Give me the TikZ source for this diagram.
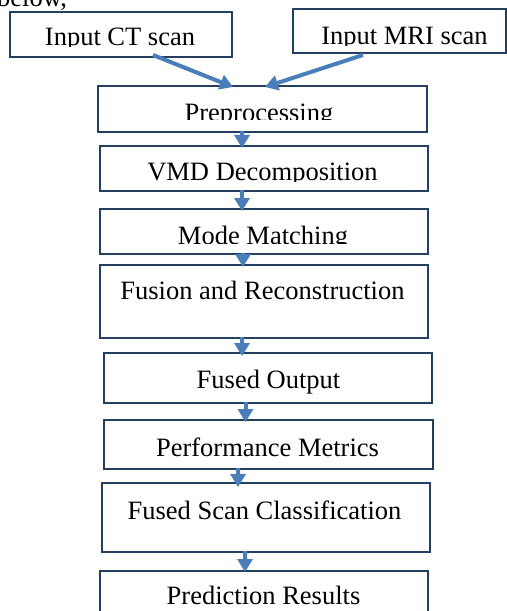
\documentclass[tikz,border=0pt]{standalone}
\usepackage{fontspec}
\setmainfont{Liberation Serif}
\usetikzlibrary{arrows.meta}
\definecolor{boxline}{RGB}{36,63,96}
\definecolor{flowblue}{RGB}{74,126,187}

\begin{document}
\begin{tikzpicture}[x=1bp,y=-1bp,
  stage/.style={draw=boxline, line width=1.6bp, fill=white, inner sep=0pt,
                outer sep=0pt, anchor=north west},
  caption/.style={font=\fontsize{26.5bp}{30bp}\selectfont, inner sep=0pt,
                  anchor=base, text=black},
  flow/.style={draw=flowblue, line width=4bp,
               -{Triangle[length=13bp,width=15bp]}},
]
\useasboundingbox (0,0) rectangle (507,611);

% paragraph text running into the figure
\node[caption, anchor=base west] (lead) at (-3,7) {below,};

% process boxes
\node[stage, minimum width=222bp, minimum height=45bp] (ct)   at (10,12)  {};
\node[stage, minimum width=213bp, minimum height=44bp] (mri)  at (293,9)  {};
\node[stage, minimum width=329bp, minimum height=46bp] (pre)  at (98,86)  {};
\node[stage, minimum width=328bp, minimum height=45bp] (vmd)  at (100,146) {};
\node[stage, minimum width=328bp, minimum height=45bp] (mode) at (100,209) {};
\node[stage, minimum width=328bp, minimum height=73bp] (fus)  at (100,265) {};
\node[stage, minimum width=328bp, minimum height=50bp] (out)  at (104,353) {};
\node[stage, minimum width=329bp, minimum height=49bp] (perf) at (104,420) {};
\node[stage, minimum width=328bp, minimum height=69bp] (fsc)  at (102,483) {};
\node[stage, minimum width=328bp, minimum height=54bp] (pred) at (100,571) {};

% box texts (the shallow boxes cut their text off at the bottom)
\begin{scope}
  \clip (10,12) rectangle (232,47);
  \node[caption] (tct) at (120,46) {Input CT scan};
\end{scope}
\begin{scope}
  \clip (293,9) rectangle (506,45.5);
  \node[caption] (tmri) at (404.5,44.5) {Input MRI scan};
\end{scope}
\begin{scope}
  \clip (98,86) rectangle (427,120);
  \node[caption] (tpre) at (259,122) {Preprocessing};
\end{scope}
\begin{scope}
  \clip (100,146) rectangle (428,181);
  \node[caption] (tvmd) at (262.5,180.5) {VMD Decomposition};
\end{scope}
\begin{scope}
  \clip (100,209) rectangle (428,243.5);
  \node[caption] (tmode) at (263,244.5) {Mode Matching};
\end{scope}
\node[caption] (tfus)  at (262.5,299.5) {Fusion and Reconstruction};
\node[caption] (tout)  at (268.5,388)   {Fused Output};
\node[caption] (tperf) at (267.5,456)   {Performance Metrics};
\node[caption] (tfsc)  at (264.5,519)   {Fused Scan Classification};
\node[caption] (tpred) at (263.5,604.5) {Prediction Results};

% flow arrows
\draw[flow] ([xshift=32bp,yshift=2bp]ct.south)
         -- ([xshift=-29.5bp,yshift=-1bp]pre.north);
\draw[flow] ([xshift=-36.5bp,yshift=-2bp]mri.south)
         -- ([xshift=2.5bp,yshift=-1bp]pre.north);
\draw[flow] ([xshift=-20.5bp,yshift=1bp]pre.south)
         -- ([xshift=-22bp,yshift=-2bp]vmd.north);
\draw[flow] ([xshift=-22bp,yshift=1bp]vmd.south)
         -- ([xshift=-22bp,yshift=-2bp]mode.north);
\draw[flow] ([xshift=-21bp,yshift=1bp]mode.south)
         -- ([xshift=-21bp,yshift=-2bp]fus.north);
\draw[flow] ([xshift=-22bp,yshift=1bp]fus.south)
         -- ([xshift=-26bp,yshift=-3bp]out.north);
\draw[flow] ([xshift=-22.5bp,yshift=1bp]out.south)
         -- ([xshift=-23bp,yshift=-2bp]perf.north);
\draw[flow] ([xshift=-30.5bp,yshift=1bp]perf.south)
         -- ([xshift=-28bp,yshift=-4bp]fsc.north);
\draw[flow] ([xshift=-21bp,yshift=1bp]fsc.south)
         -- ([xshift=-19bp,yshift=-1bp]pred.north);
\end{tikzpicture}
\end{document}
